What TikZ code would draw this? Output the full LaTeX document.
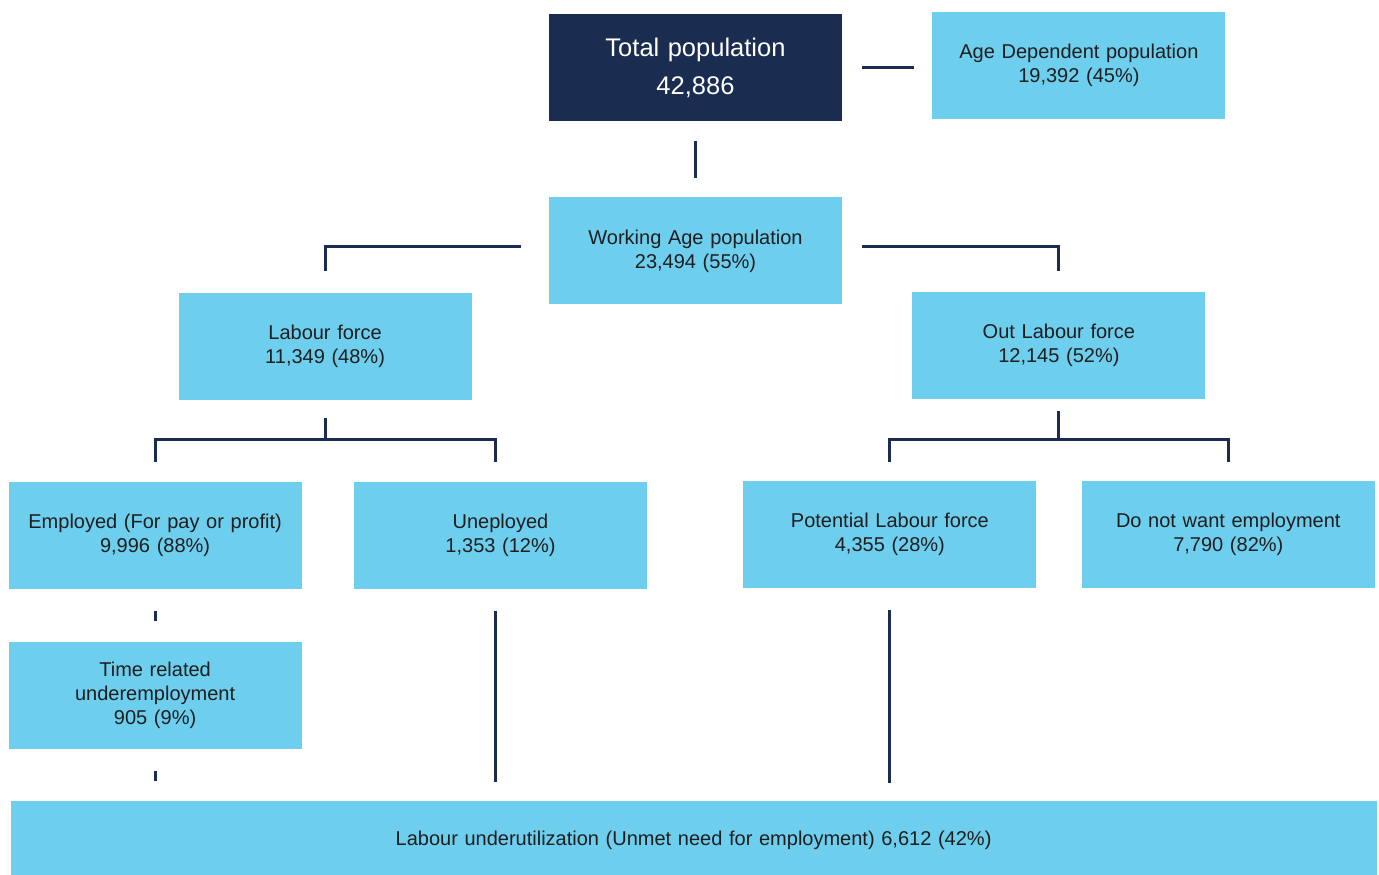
\documentclass[tikz,border=0pt]{standalone}
\usepackage{fontspec}
\setmainfont{Liberation Sans}
\usepackage{tikz}
\usetikzlibrary{positioning}
\definecolor{navy}{RGB}{26,44,80}
\definecolor{skyblue}{RGB}{109,206,238}
\definecolor{inktext}{RGB}{30,30,30}
\tikzstyle{block} = [rectangle, fill=skyblue, text=inktext, 
    text width=280pt, align=center, minimum width=293pt, minimum height=107pt,
    inner sep=0pt, font=\fontsize{20}{24}\selectfont]
\tikzstyle{line} = [draw=navy, line width=3pt]

\begin{document}
\begin{tikzpicture}[node distance=52pt]
    \useasboundingbox (-695.5pt,67.5pt) rectangle (683.5pt,-807.5pt);
    % Place nodes
    \node [block, fill=navy, text=white, font=\fontsize{25.5}{38}\selectfont] (total) {Total population\\42,886};
    \node [block, right=90pt of total, yshift=2pt] (agedep) {Age Dependent population\\19,392 (45\%)};
    \node [block, below=76pt of total] (working) {Working Age population\\23,494 (55\%)};
    \node [block, left=77pt of working, yshift=-95.5pt] (labour) {Labour force\\11,349 (48\%)};
    \node [block, right=70pt of working, yshift=-94.5pt] (outlabour) {Out Labour force\\12,145 (52\%)};
    \node [block, below=82pt of labour, xshift=-170pt] (employed) {Employed (For pay or profit)\\9,996 (88\%)};
    \node [block, right=52pt of employed] (unemployed) {Uneployed\\1,353 (12\%)};
    \node [block, below=82pt of outlabour, xshift=-169pt] (potential) {Potential Labour force\\4,355 (28\%)};
    \node [block, right=45pt of potential] (nowant) {Do not want employment\\7,790 (82\%)};
    \node [block, below=52pt of employed] (timerel) {Time related\\underemployment\\905 (9\%)};
    \node [block, below=52pt of timerel, xshift=538.5pt, minimum width=1366pt, minimum height=78pt,
        text width=1300pt] (underutil) {Labour underutilization (Unmet need for employment) 6,612 (42\%)};
    % Draw edges
    \path [line] ([xshift=20pt]total.east) -- ([xshift=-18pt]total.east -| agedep.west);
    \path [line, shorten <=20pt, shorten >=19pt] (total) -- (working);
    \path [line] ([xshift=-28pt,yshift=4pt]working.west) -| ([yshift=22pt]labour.north);
    \path [line] ([xshift=20pt,yshift=4pt]working.east) -| ([yshift=21pt]outlabour.north);
    \path [line] ([yshift=-18pt]labour.south) -- ++(0,-21pt) coordinate (lfjoin);
    \path [line] ([yshift=20pt]employed.north) |- (lfjoin) -| ([xshift=-5pt,yshift=20pt]unemployed.north);
    \path [line] ([yshift=-12pt]outlabour.south) -- ++(0,-28pt) coordinate (oljoin);
    \path [line] ([yshift=19pt]potential.north) |- (oljoin) -| ([yshift=19pt]nowant.north);
    \path [line, shorten <=21pt, shorten >=21pt] (employed) -- (timerel);
    \path [line, shorten <=22pt, shorten >=20pt] (timerel.south) -- (timerel.south |- underutil.north);
    \path [line, shorten <=21pt, shorten >=19pt] ([xshift=-5pt]unemployed.south) -- ([xshift=-5pt]unemployed.south |- underutil.north);
    \path [line, shorten <=21pt, shorten >=18pt] (potential.south) -- (potential.south |- underutil.north);

\end{tikzpicture}
\end{document}
